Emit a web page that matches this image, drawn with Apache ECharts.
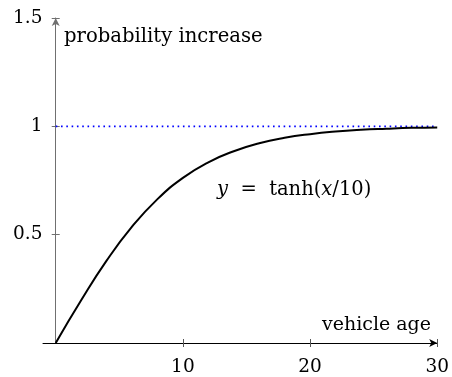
<!DOCTYPE html>
<html>
<head>
<meta charset="utf-8">
<script src="https://cdn.jsdelivr.net/npm/echarts@6/dist/echarts.min.js"></script>
<style>
  html, body { margin: 0; padding: 0; background: #fff; }
  #chart { width: 452px; height: 377px; }
</style>
</head>
<body>
<div id="chart"></div>
<script>
// Vehicle age (years) and the saturating probability increase y = tanh(x/10)
const ages = [0, 2, 4, 6, 8, 10, 12, 14, 16, 18, 20, 22, 24, 26, 28, 30];
const increase = [0, 0.197, 0.380, 0.537, 0.664, 0.762, 0.834, 0.885, 0.922, 0.947, 0.964, 0.976, 0.984, 0.989, 0.993, 0.995];

// Asymptote at 1
const limitAges = [0, 30];
const limitValues = [1, 1];

const xTicks = [10, 20, 30];
const yTicks = [0.5, 1, 1.5];

const FONT = 'DejaVu Serif';
const FS = 18.5;

const curve = ages.map((a, i) => [a, increase[i]]);
const limit = limitAges.map((a, i) => [a, limitValues[i]]);

const chart = echarts.init(document.getElementById('chart'), null, { renderer: 'canvas' });

const xBase = {
  type: 'value', min: -1, max: 30, position: 'bottom',
  splitLine: { show: false }
};
const yBase = {
  type: 'value', min: 0, max: 1.5, interval: 0.5, position: 'left',
  splitLine: { show: false }
};

chart.setOption({
  animation: false,
  grid: { left: 43, right: 12, top: 18, bottom: 30.5, containLabel: false },
  xAxis: [
    Object.assign({}, xBase, {
      axisLine: { show: true, onZero: true, symbol: ['none', 'arrow'], symbolSize: [6, 8],
        lineStyle: { color: '#000', width: 1 } },
      axisTick: { show: true, inside: false, length: 4, customValues: xTicks,
        lineStyle: { color: '#555', width: 1 } },
      axisLabel: { show: true, margin: 15, customValues: xTicks, color: '#000',
        fontFamily: FONT, fontSize: FS }
    }),
    Object.assign({}, xBase, {
      axisLine: { show: false },
      axisTick: { show: true, inside: true, length: 4, customValues: xTicks,
        lineStyle: { color: '#555', width: 1 } },
      axisLabel: { show: false }
    })
  ],
  yAxis: [
    Object.assign({}, yBase, {
      axisLine: { show: true, onZero: true, symbol: ['none', 'arrow'], symbolSize: [6, 8],
        lineStyle: { color: '#707070', width: 1 } },
      axisTick: { show: true, inside: false, length: 4, customValues: yTicks,
        lineStyle: { color: '#707070', width: 1 } },
      axisLabel: { show: true, margin: 0.5, customValues: yTicks, color: '#000',
        fontFamily: FONT, fontSize: FS, padding: [5, 0, 0, 0] }
    }),
    Object.assign({}, yBase, {
      axisLine: { show: false, onZero: true },
      axisTick: { show: true, inside: true, length: 4, customValues: yTicks,
        lineStyle: { color: '#707070', width: 1 } },
      axisLabel: { show: false }
    })
  ],
  series: [
    {
      name: 'limit', type: 'line', xAxisIndex: 0, yAxisIndex: 0,
      data: limit, showSymbol: false, symbol: 'none', silent: true,
      lineStyle: { color: '#0000ff', width: 1.8, type: [1.6, 3.7] }
    },
    {
      name: 'tanh', type: 'line', xAxisIndex: 0, yAxisIndex: 0,
      data: curve, smooth: true, showSymbol: false, symbol: 'none', silent: true,
      lineStyle: { color: '#000', width: 2 }
    }
  ],
  graphic: [
    {
      type: 'text', left: 64, top: 27, silent: true,
      style: { text: 'probability increase', fill: '#000', font: '19.6px "DejaVu Serif"' }
    },
    {
      type: 'text', right: 21, top: 316, silent: true,
      style: { text: 'vehicle age', fill: '#000', font: '19px "DejaVu Serif"' }
    },
    {
      type: 'text', left: 217, top: 180, silent: true,
      style: {
        text: '{i|y}  =  tanh({i|x}/10)',
        fill: '#000', font: '19.5px "DejaVu Serif"',
        rich: { i: { fontFamily: FONT, fontStyle: 'italic', fontSize: 19.5, fill: '#000' } }
      }
    }
  ]
});
</script>
</body>
</html>
